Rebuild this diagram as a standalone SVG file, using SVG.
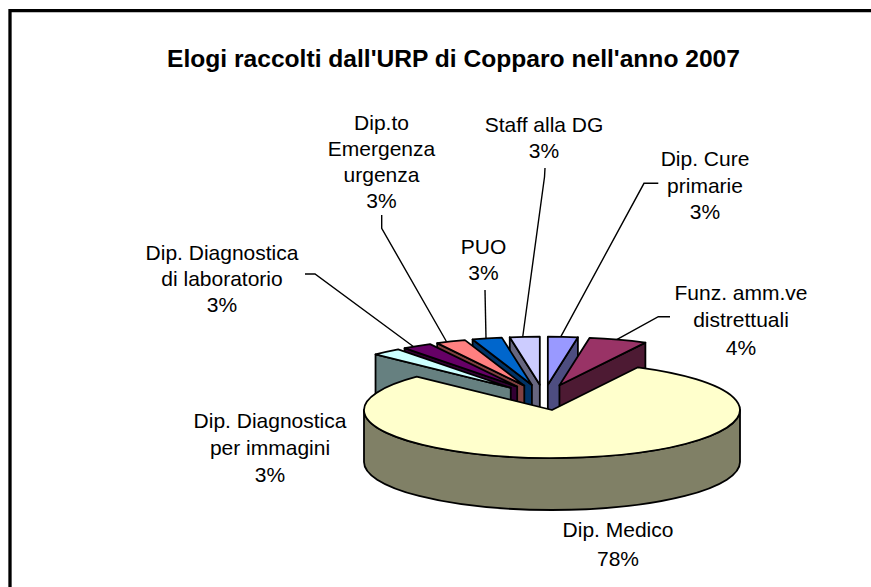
<svg xmlns="http://www.w3.org/2000/svg" width="871" height="587" viewBox="0 0 871 587">
<style>
.edge{stroke:#000;stroke-width:1.8;stroke-linejoin:round}
.lbl{font-family:"Liberation Sans",Arial,sans-serif;font-size:21px;text-anchor:middle;fill:#000}
.title{font-family:"Liberation Sans",Arial,sans-serif;font-size:24.6px;font-weight:bold;text-anchor:middle;fill:#000}
.lead{fill:none;stroke:#000;stroke-width:1.4}
</style>
<rect x="0" y="0" width="871" height="587" fill="#fff"/>
<path d="M10 600 V10.7 H880" fill="none" stroke="#000" stroke-width="3.3"/>
<text class="title" x="453.5" y="66.5">Elogi raccolti dall'URP di Copparo nell'anno 2007</text>

<g id="connectors">
<path class="lead" d="M545 168 L544.5 177 L522.7 337"/>
<path class="lead" d="M658.3 183.3 L644 183.3 L560.7 336.8"/>
<path class="lead" d="M485 290 L486 338.5"/>
<path class="lead" d="M670 316.7 L658.3 316.7 L616.7 339.6"/>
<path class="lead" d="M381.7 215 L381.7 228.3 L446.7 342"/>
<path class="lead" d="M305 274 L315 274 L413.3 346.5"/>
</g>

<g id="slice-staff">
<path class="edge" fill="#666680" d="M539.82 384.69 L509.76 337.31 L509.76 389.31 L539.82 436.69 Z"/>
<path class="edge" fill="#CCCCFF" d="M539.82 384.69 L509.76 337.31 A188 48 0 0 1 539.82 336.69 Z"/>
<text class="lbl" x="544" y="132.3">Staff alla DG</text>
<text class="lbl" x="544" y="158.3">3%</text>
</g>

<g id="slice-cure">
<path class="edge" fill="#4D4D80" d="M547.84 384.69 L577.9 337.31 L577.9 389.31 L547.84 436.69 Z"/>
<path class="edge" fill="#9999FF" d="M547.84 384.69 L547.84 336.69 A188 48 0 0 1 577.9 337.31 Z"/>
<text class="lbl" x="705" y="166">Dip. Cure</text>
<text class="lbl" x="705" y="192.5">primarie</text>
<text class="lbl" x="705" y="219">3%</text>
</g>

<g id="slice-puo">
<path class="edge" fill="#003366" d="M531.9 385.02 L472.57 339.47 L472.57 391.47 L531.9 437.02 Z"/>
<path class="edge" fill="#0066CC" d="M531.9 385.02 L472.57 339.47 A188 48 0 0 1 501.84 337.64 Z"/>
<text class="lbl" x="483.5" y="254">PUO</text>
<text class="lbl" x="483.5" y="280">3%</text>
</g>

<g id="slice-emergenza">
<path class="edge" fill="#804040" d="M524.29 385.66 L437.19 343.12 L437.19 395.12 L524.29 437.66 Z"/>
<path class="edge" fill="#FF8080" d="M524.29 385.66 L437.19 343.12 A188 48 0 0 1 464.96 340.11 Z"/>
<text class="lbl" x="381.5" y="129.5">Dip.to</text>
<text class="lbl" x="381.5" y="155.6">Emergenza</text>
<text class="lbl" x="381.5" y="181.7">urgenza</text>
<text class="lbl" x="381.5" y="207.8">3%</text>
</g>

<g id="slice-laboratorio">
<path class="edge" fill="#330033" d="M517.18 386.61 L404.57 348.18 L404.57 400.18 L517.18 438.61 Z"/>
<path class="edge" fill="#660066" d="M517.18 386.61 L404.57 348.18 A188 48 0 0 1 430.08 344.07 Z"/>
<text class="lbl" x="222" y="259.5">Dip. Diagnostica</text>
<text class="lbl" x="222" y="285.5">di laboratorio</text>
<text class="lbl" x="222" y="311.5">3%</text>
</g>

<g id="slice-immagini">
<path class="edge" fill="#668080" d="M510.76 387.84 L375.53 354.49 L375.53 406.49 L510.76 439.84 Z"/>
<path class="edge" fill="#CCFFFF" d="M510.76 387.84 L375.53 354.49 A188 48 0 0 1 398.15 349.41 Z"/>
<text class="lbl" x="270" y="427.7">Dip. Diagnostica</text>
<text class="lbl" x="270" y="455">per immagini</text>
<text class="lbl" x="270" y="481.7">3%</text>
</g>

<g id="slice-funz">
<path class="edge" fill="#4D1A33" d="M559.45 385.29 L645.38 342.6 L645.38 394.6 L559.45 437.29 Z"/>
<path class="edge" fill="#993366" d="M559.45 385.29 L589.51 337.91 A188 48 0 0 1 645.38 342.6 Z"/>
<text class="lbl" x="741" y="300">Funz. amm.ve</text>
<text class="lbl" x="741" y="327.3">distrettuali</text>
<text class="lbl" x="741" y="354.5">4%</text>
</g>

<g id="slice-medico">
<path class="edge" fill="#808066" d="M740 410 A188 48 0 0 1 364 410 L364 462 A188 48 0 0 0 740 462 Z"/>
<path class="edge" fill="#FFFFCC" d="M552 410 L637.93 367.31 A188 48 0 1 1 416.77 376.65 Z"/>
<text class="lbl" x="618" y="537.3">Dip. Medico</text>
<text class="lbl" x="618" y="565.7">78%</text>
</g>
</svg>
